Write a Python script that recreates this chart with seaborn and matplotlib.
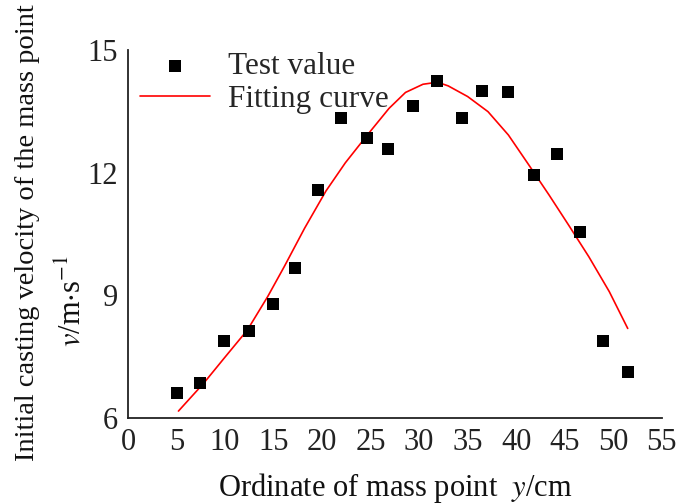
import numpy as np
import pandas as pd
import matplotlib
matplotlib.use("Agg")
import matplotlib.pyplot as plt
import seaborn as sns

# Test values
test_x = [5.1, 7.4, 9.9, 12.5, 14.9, 17.2, 19.6, 22.0, 24.6, 26.8,
          29.4, 31.8, 34.4, 36.5, 39.2, 41.8, 44.2, 46.6, 49.0, 51.5]
test_v = [6.61, 6.86, 7.88, 8.13, 8.79, 9.67, 11.57, 13.33, 12.85, 12.58,
          13.63, 14.24, 13.33, 14.00, 13.97, 11.94, 12.45, 10.55, 7.88, 7.12]

# Fitting curve points
fit_x = [5.2, 7.8, 9.9, 12.3, 14.4, 16.1, 18.2, 20.4, 22.4, 24.7, 26.9,
         28.6, 30.4, 31.9, 33.0, 35.0, 37.1, 39.2, 41.3, 43.4, 45.4,
         47.5, 49.6, 51.5]
fit_v = [6.17, 6.85, 7.46, 8.15, 8.97, 9.70, 10.64, 11.55, 12.24, 12.93, 13.57,
         13.96, 14.16, 14.21, 14.12, 13.86, 13.49, 12.92, 12.19, 11.45, 10.72,
         9.94, 9.09, 8.19]

x_ticks = [0, 5, 10, 15, 20, 25, 30, 35, 40, 45, 50, 55]
y_ticks = [6, 9, 12, 15]

sns.set_style("white")
plt.rcParams["font.family"] = ["Liberation Serif", "DejaVu Serif"]
plt.rcParams["mathtext.fontset"] = "stix"

fig = plt.figure(figsize=(6.79, 5.04), dpi=100)
ax = fig.add_axes([0.1885, 0.1706, 0.786, 0.7304])

test_df = pd.DataFrame({"x": test_x, "v": test_v})
fit_df = pd.DataFrame({"x": fit_x, "v": fit_v})

sns.scatterplot(data=test_df, x="x", y="v", marker="s", s=70, color="black",
                edgecolor="black", linewidth=0, ax=ax, label="Test value", zorder=3)
sns.lineplot(data=fit_df, x="x", y="v", color="red", linewidth=1.2, ax=ax,
             label="Fitting curve", sort=True, zorder=2)

ax.set_xlim(0, 55)
ax.set_ylim(6, 15)
ax.set_xticks(x_ticks)
ax.set_yticks(y_ticks)
ax.tick_params(axis="both", length=0, labelsize=22, colors="#222222", pad=7)
ax.tick_params(axis="x", pad=7)
for s in ["top", "right"]:
    ax.spines[s].set_visible(False)
for s in ["left", "bottom"]:
    ax.spines[s].set_color("#222222")
    ax.spines[s].set_linewidth(1.3)

ax.set_xlabel(r"Ordinate of mass point  $y$/cm", fontsize=22, color="#111111", labelpad=10)
ax.set_ylabel("")
fig.text(0.041, 0.538, "Initial casting velocity of the mass point", rotation=90,
         fontsize=20.5, ha="center", va="center", color="#111111")
fig.text(0.106, 0.402, r"$v$/m$\cdot$s$^{-1}$", rotation=90,
         fontsize=22, ha="center", va="center", color="#111111")

leg = ax.legend(loc="upper left", bbox_to_anchor=(0.0225, 0.995), frameon=False,
                fontsize=22.5, handlelength=2.25, handletextpad=0.58,
                labelspacing=0.15, borderpad=0, borderaxespad=0, markerscale=1.0)

fig.savefig("out.png", dpi=100)
